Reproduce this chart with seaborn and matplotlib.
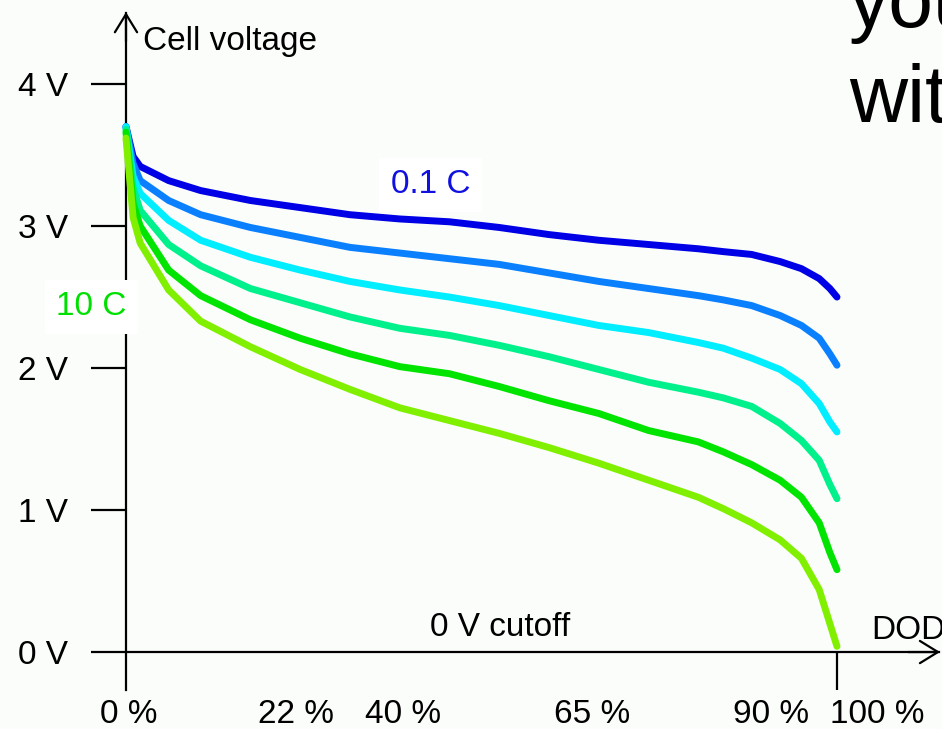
import numpy as np
import pandas as pd
import matplotlib
matplotlib.use("Agg")
import matplotlib.pyplot as plt
import seaborn as sns

# ==========================================================
# DATA
# ==========================================================

dod = [0, 1, 2, 6, 10.5, 17.5, 24.5, 31.5, 38.5, 45.5, 52.5,
       59.5, 66.5, 73.5, 80.5, 84, 88, 92, 95, 97.5, 99, 100]

v_01c = [3.70, 3.49, 3.42, 3.32, 3.25, 3.18, 3.13, 3.08, 3.05, 3.03, 2.99,
         2.94, 2.90, 2.87, 2.84, 2.82, 2.80, 2.75, 2.70, 2.63, 2.56, 2.50]
v_02c = [3.70, 3.44, 3.32, 3.18, 3.08, 2.99, 2.92, 2.85, 2.81, 2.77, 2.73,
         2.67, 2.61, 2.56, 2.51, 2.48, 2.44, 2.37, 2.30, 2.21, 2.10, 2.02]
v_05c = [3.70, 3.35, 3.23, 3.04, 2.90, 2.78, 2.69, 2.61, 2.55, 2.50, 2.44,
         2.37, 2.30, 2.25, 2.18, 2.14, 2.07, 1.99, 1.89, 1.75, 1.62, 1.55]
v_1c = [3.68, 3.27, 3.11, 2.87, 2.72, 2.56, 2.46, 2.36, 2.28, 2.23, 2.16,
        2.08, 1.99, 1.90, 1.83, 1.79, 1.73, 1.61, 1.49, 1.35, 1.18, 1.08]
v_2c = [3.66, 3.16, 3.00, 2.69, 2.51, 2.34, 2.21, 2.10, 2.01, 1.96, 1.87,
        1.77, 1.68, 1.56, 1.48, 1.41, 1.32, 1.21, 1.09, 0.91, 0.70, 0.58]
v_10c = [3.62, 3.06, 2.88, 2.55, 2.33, 2.15, 1.99, 1.85, 1.72, 1.63, 1.54,
         1.44, 1.33, 1.21, 1.09, 1.01, 0.91, 0.79, 0.66, 0.44, 0.20, 0.04]

rates = ["0.1 C", "0.2 C", "0.5 C", "1 C", "2 C", "10 C"]
colors = ["#0000e6", "#0a80ff", "#00eeff", "#00f08c", "#00e400", "#80f000"]

y_ticks = [0, 1, 2, 3, 4]
y_labels = ["0 V", "1 V", "2 V", "3 V", "4 V"]

x_labels = ["0 %", "22 %", "40 %", "65 %", "90 %", "100 %"]
x_label_pos = [0.4, 23.9, 39.0, 65.5, 90.7, 105.6]

df = pd.concat(
    [pd.DataFrame({"DOD": dod, "Voltage": v, "Rate": r})
     for r, v in zip(rates, [v_01c, v_02c, v_05c, v_1c, v_2c, v_10c])],
    ignore_index=True
)

# ==========================================================
# PLOT
# ==========================================================

sns.set_style("white")
plt.rcParams["font.family"] = ["Liberation Sans", "DejaVu Sans"]
plt.rcParams["text.color"] = "black"
plt.rcParams["xtick.color"] = "black"
plt.rcParams["ytick.color"] = "black"

bg = "#fbfdfb"
fig = plt.figure(figsize=(9.42, 7.29), dpi=100, facecolor=bg)
ax = fig.add_axes([0, 0, 1, 1], facecolor=bg)

sns.lineplot(
    data=df, x="DOD", y="Voltage", hue="Rate",
    hue_order=rates, palette=colors,
    sort=False, legend=False, linewidth=5, ax=ax, zorder=4
)

ax.set_xlim(-17.72, 114.77)
ax.set_ylim(-0.542, 4.592)
ax.set_xlabel("")
ax.set_ylabel("")

# axes as arrows through the origin
for s in ["top", "right"]:
    ax.spines[s].set_visible(False)
ax.spines["left"].set_position(("data", 0))
ax.spines["bottom"].set_position(("data", 0))
ax.spines["left"].set_bounds(-0.27, 4.5)
ax.spines["bottom"].set_bounds(0, 114.4)
for s in ["left", "bottom"]:
    ax.spines[s].set_linewidth(1.6)
    ax.spines[s].set_color("black")

arrow = dict(arrowstyle="->,head_length=0.65,head_width=0.4",
             lw=1.6, color="black", shrinkA=0, shrinkB=0, mutation_scale=20)
ax.annotate("", xy=(0, 4.507), xytext=(0, 4.3), arrowprops=arrow)
ax.annotate("", xy=(114.5, 0), xytext=(110, 0), arrowprops=arrow)

ax.set_yticks(y_ticks, y_labels)
ax.tick_params(axis="y", direction="out", length=25, width=1.6,
               pad=17, labelsize=24, left=True, colors="black")

ax.set_xticks(x_label_pos, x_labels)
ax.set_xticks([100], minor=True)
ax.tick_params(axis="x", which="major", length=0, pad=34, labelsize=24,
               colors="black")
ax.tick_params(axis="x", which="minor", direction="out", length=27,
               width=1.6, bottom=True, colors="black")

# annotations
ax.text(2.4, 4.24, "Cell voltage", fontsize=24, va="baseline")
ax.text(42.8, 3.29, "0.1 C", fontsize=24, color="#1010e0",
        ha="center", va="center", zorder=3,
        bbox=dict(boxstyle="square,pad=0.35", fc="white", ec="none"))
ax.text(0.1, 2.43, "10 C", fontsize=24, color="#00e000",
        ha="right", va="center", zorder=3,
        bbox=dict(boxstyle="square,pad=0.35", fc="white", ec="none"))
ax.text(52.6, 0.176, "0 V cutoff", fontsize=24, ha="center", va="center")
ax.text(104.8, 0.155, "DOD", fontsize=24, ha="left", va="center")

# slide text cut off at the right edge, as in the source slide
ax.text(101.7, 4.401, "you", fontsize=58, va="baseline")
ax.text(101.7, 3.732, "with", fontsize=58, va="baseline")

fig.savefig("out.png", dpi=100, facecolor=bg)
